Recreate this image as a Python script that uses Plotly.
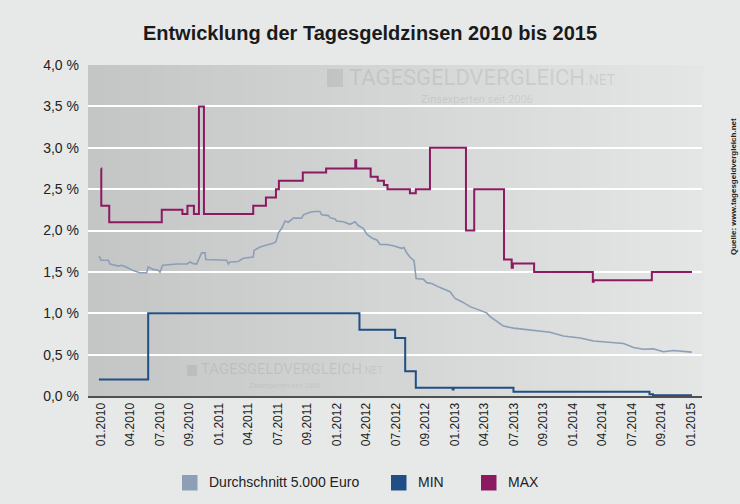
import plotly.graph_objects as go

# ---- data ----
tick_labels = ["01.2010", "04.2010", "07.2010", "09.2010", "01.2011", "04.2011", "07.2011",
               "09.2011", "01.2012", "04.2012", "07.2012", "09.2012", "01.2013", "04.2013",
               "07.2013", "09.2013", "01.2014", "04.2014", "07.2014", "09.2014", "01.2015"]
y_tick_vals = [0, 0.5, 1, 1.5, 2, 2.5, 3, 3.5, 4]
y_tick_text = ["0,0 %", "0,5 %", "1,0 %", "1,5 %", "2,0 %", "2,5 %", "3,0 %", "3,5 %", "4,0 %"]

# positions are in tick-label units (0 = 01.2010, 20 = 01.2015)
max_x = [0.0, 0.01, 0.28, 2.06, 2.76, 2.93, 3.15, 3.32, 3.49, 5.16, 5.59, 5.93, 6.03, 6.84,
         7.63, 8.62, 8.65, 9.14, 9.38, 9.59, 9.71, 10.47, 10.67, 11.15, 12.37, 12.65, 13.66,
         13.92, 13.96, 14.68, 16.67, 16.70, 18.67, 20.03]
max_y = [2.75, 2.3, 2.1, 2.25, 2.2, 2.3, 2.2, 3.5, 2.2, 2.3, 2.4, 2.5, 2.6, 2.7,
         2.75, 2.85, 2.75, 2.65, 2.6, 2.55, 2.5, 2.45, 2.5, 3.0, 2.0, 2.5, 1.65,
         1.55, 1.6, 1.5, 1.38, 1.4, 1.5, 1.5]

min_x = [-0.07, 1.60, 8.76, 9.97, 10.31, 10.67, 11.92, 11.95, 13.98, 18.59, 18.71, 20.03]
min_y = [0.2, 1.0, 0.8, 0.7, 0.3, 0.1, 0.08, 0.1, 0.05, 0.02, 0.01, 0.01]

avg_x = [-0.06, 0.0, 0.25, 0.31, 0.59, 0.70, 0.87, 1.09, 1.32, 1.55, 1.60, 1.77, 1.94, 2.00,
         2.09, 2.34, 2.57, 2.91, 3.02, 3.13, 3.24, 3.36, 3.41, 3.53, 3.55, 4.26, 4.32, 4.37,
         4.65, 4.82, 5.05, 5.16, 5.19, 5.39, 5.62, 5.84, 5.93, 6.01, 6.13, 6.24, 6.35, 6.52,
         6.80, 6.86, 7.08, 7.25, 7.42, 7.48, 7.71, 7.76, 7.93, 7.99, 8.21, 8.44, 8.61, 8.72,
         8.89, 9.01, 9.18, 9.35, 9.46, 9.68, 9.91, 10.19, 10.27, 10.36, 10.47, 10.61, 10.68,
         10.93, 11.04, 11.21, 11.49, 11.83, 12.00, 12.23, 12.51, 12.74, 13.07, 13.19, 13.41,
         13.64, 13.98, 14.32, 14.77, 15.22, 15.67, 16.24, 16.69, 17.25, 17.71, 18.05, 18.38,
         18.72, 19.06, 19.40, 20.02]
avg_y = [1.69, 1.64, 1.64, 1.595, 1.57, 1.58, 1.555, 1.515, 1.49, 1.49, 1.56, 1.53, 1.52, 1.495,
         1.58, 1.59, 1.595, 1.595, 1.62, 1.60, 1.595, 1.69, 1.73, 1.73, 1.65, 1.64, 1.595, 1.62,
         1.625, 1.665, 1.675, 1.68, 1.76, 1.80, 1.825, 1.845, 1.865, 1.97, 2.03, 2.115, 2.10, 2.15,
         2.15, 2.19, 2.22, 2.23, 2.23, 2.19, 2.18, 2.155, 2.14, 2.115, 2.105, 2.075, 2.105, 2.06,
         2.025, 1.955, 1.91, 1.885, 1.83, 1.83, 1.815, 1.785, 1.795, 1.73, 1.68, 1.635, 1.42,
         1.41, 1.37, 1.36, 1.31, 1.26, 1.18, 1.14, 1.08, 1.05, 1.005, 0.96, 0.90,
         0.845, 0.82, 0.805, 0.785, 0.77, 0.725, 0.70, 0.665, 0.65, 0.635, 0.585, 0.565,
         0.57, 0.535, 0.55, 0.53]

series_names = ["Durchschnitt 5.000 Euro", "MIN", "MAX"]
series_colors = ["#8c9fb6", "#1f4f84", "#8c1a60"]

# ---- layout helpers (pixel -> paper) ----
L, R, T, B = 88, 38, 65, 108
W, H = 740, 504
PW, PH = W - L - R, H - T - B


def px(x):
    return (x - L) / PW


def py(y):
    return (H - B - y) / PH


# ---- figure ----
fig = go.Figure()

fig.add_trace(go.Scatter(x=avg_x, y=avg_y, mode="lines", line=dict(color=series_colors[0], width=1.6),
                         name=series_names[0], showlegend=False, hoverinfo="skip"))
fig.add_trace(go.Scatter(x=min_x, y=min_y, mode="lines", line=dict(color=series_colors[1], width=2, shape="hv"),
                         name=series_names[1], showlegend=False, hoverinfo="skip"))
fig.add_trace(go.Scatter(x=max_x, y=max_y, mode="lines", line=dict(color=series_colors[2], width=2, shape="hv"),
                         name=series_names[2], showlegend=False, hoverinfo="skip"))

# gradient plot background
shapes = []
n = 40
c0 = (196, 197, 197)
c1 = (228, 229, 229)
for i in range(n):
    t = i / (n - 1)
    c = tuple(int(round(c0[k] + (c1[k] - c0[k]) * t)) for k in range(3))
    shapes.append(dict(type="rect", xref="x domain", yref="y domain", x0=i / n, x1=(i + 1) / n + 0.002,
                       y0=0, y1=1, layer="below", line=dict(width=0),
                       fillcolor="rgb(%d,%d,%d)" % c))

wm = "rgba(140,145,145,0.22)"
shapes.append(dict(type="rect", xref="paper", yref="paper", x0=px(327), x1=px(343), y0=py(87), y1=py(69),
                   line=dict(width=0), fillcolor=wm, layer="below"))
shapes.append(dict(type="rect", xref="paper", yref="paper", x0=px(187), x1=px(197), y0=py(376), y1=py(365),
                   line=dict(width=0), fillcolor=wm, layer="below"))

annotations = [
    dict(text="TAGESGELDVERGLEICH<span style='font-size:14px'>.NET</span>", xref="paper", yref="paper",
         x=px(347), y=py(77), xanchor="left", yanchor="middle", showarrow=False,
         font=dict(family="Roboto", size=22, color=wm)),
    dict(text="Zinsexperten seit 2006", xref="paper", yref="paper", x=px(477), y=py(99),
         xanchor="center", yanchor="middle", showarrow=False,
         font=dict(family="Roboto", size=11, color=wm)),
    dict(text="TAGESGELDVERGLEICH<span style='font-size:10px'>.NET</span>", xref="paper", yref="paper",
         x=px(199), y=py(369), xanchor="left", yanchor="middle", showarrow=False,
         font=dict(family="Roboto", size=15, color=wm)),
    dict(text="Zinsexperten seit 2006", xref="paper", yref="paper", x=px(284), y=py(386),
         xanchor="center", yanchor="middle", showarrow=False,
         font=dict(family="Roboto", size=7, color=wm)),
    dict(text="<b>Quelle: www.tagesgeldvergleich.net</b>", xref="paper", yref="paper",
         x=px(733), y=py(187), xanchor="center", yanchor="middle", textangle=-90, showarrow=False,
         font=dict(family="Liberation Sans", size=8, color="#222222")),
]

# custom legend (square swatches)
legend_sq_x = [182, 391, 481]
for name, col, sx in zip(series_names, series_colors, legend_sq_x):
    shapes.append(dict(type="rect", xref="paper", yref="paper", x0=px(sx), x1=px(sx + 15.5),
                       y0=py(490.5), y1=py(475), line=dict(width=0), fillcolor=col))
    annotations.append(dict(text=name, xref="paper", yref="paper", x=px(sx + 25), y=py(482),
                            xanchor="left", yanchor="middle", showarrow=False,
                            font=dict(family="Liberation Sans", size=14, color="#222222")))

fig.update_layout(
    width=W, height=H,
    margin=dict(l=L, r=R, t=T, b=B),
    paper_bgcolor="#e7e9e9",
    plot_bgcolor="rgba(0,0,0,0)",
    showlegend=False,
    font=dict(family="Liberation Sans", color="#222222"),
    title=dict(text="<b>Entwicklung der Tagesgeldzinsen 2010 bis 2015</b>", x=0.5, xanchor="center",
               y=0.935, yanchor="middle", font=dict(family="Liberation Sans", size=20, color="#1a1a1a")),
    xaxis=dict(range=[-0.44, 20.37], tickmode="array", tickvals=list(range(len(tick_labels))),
               ticktext=tick_labels, tickangle=-90, showgrid=False, zeroline=False,
               showline=True, linecolor="#505050", linewidth=2, ticks="",
               tickfont=dict(size=12, color="#222222")),
    yaxis=dict(range=[0, 4], tickmode="array", tickvals=y_tick_vals, ticktext=y_tick_text,
               showgrid=True, gridcolor="#ffffff", gridwidth=1.6, zeroline=False,
               tickfont=dict(size=14, color="#222222"), ticks="", ticklabelstandoff=8),
    shapes=shapes,
    annotations=annotations,
)

fig.write_html("out.html")
